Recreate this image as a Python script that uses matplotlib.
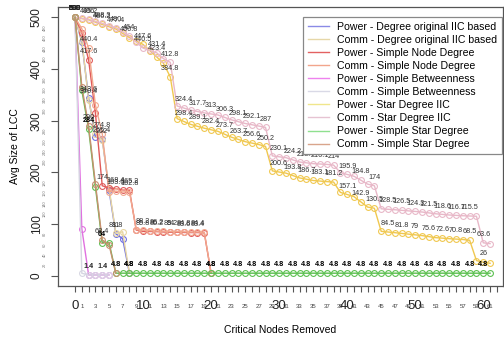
import matplotlib
matplotlib.use('Agg')
import matplotlib.pyplot as plt
from matplotlib.lines import Line2D
from matplotlib.transforms import blended_transform_factory

plt.rcParams['font.family'] = ['Liberation Sans', 'DejaVu Sans']

# Avg size of LCC after n critical nodes removed (x = 0, 1, 2, ...)
pw_deg_iic = [500, 452, 343.6, 268, 265.4, 165.2, 81, 71.6, 4.8]
cm_deg_iic = [500, 455, 340.4, 275, 262, 170, 81.8, 85, 4.8]
pw_node = [500, 470, 417.6, 314, 174, 170, 168.4, 166, 165.2, 88.2, 85.8,
           85.5, 85.2, 84.6, 84, 84, 83.6, 83.4, 83.4, 83, 4.8]
cm_node = [500, 478, 440.4, 330, 274.8, 162, 163.6, 162, 162.8, 89, 88.2,
           87, 86.2, 86, 85.2, 85, 84.8, 84.4, 84.4, 84, 4.8]
pw_betw = [500, 91, 1.4, 1.4, 1.4, 1.4]
cm_betw = [500, 4.6, 1.4, 1.4, 1.4, 1.4]
pw_star = [500, 497.6, 495.2, 490.7, 486.2, 481.8, 477.4, 469, 460.8, 454,
           447.6, 435.5, 423.4, 411, 384.8, 304, 298.4, 292.8, 289.1, 285.4,
           282.4, 279.4, 273.7, 268, 263.7, 259.4, 256.6, 253.8, 250.2, 202.8,
           200.6, 198.5, 193.8, 189.2, 186.7, 184.2, 183.1, 182, 181.2, 161.2,
           157.1, 153, 142.9, 132.8, 130.5, 85.8, 84.5, 83.2, 81.8, 80.4,
           79, 77.6, 75.6, 73.6, 72.6, 71.6, 70.8, 70, 68.5, 29.2,
           26, 24]
cm_star = [500, 498, 496, 492, 488.3, 484, 480, 472, 464, 452,
           440.5, 436, 431.4, 420, 412.8, 328.4, 324.4, 320.4, 317.7, 315,
           313, 311, 306.3, 301.6, 298.1, 294.6, 292.1, 289.6, 287, 231.8,
           230.1, 228.4, 224.2, 220, 218.4, 216.8, 216.1, 215.4, 214, 199.4,
           195.9, 192.4, 184.8, 177.2, 174, 129.4, 128.5, 127.6, 126.5, 125.4,
           124.3, 123.2, 121.5, 119.8, 118.6, 117.4, 116.7, 116, 115.5, 115,
           63.6, 62]
pw_star_simple = [500, 359, 284, 172, 64, 64, 4.8, 4.8, 4.8, 4.8,
                  4.8, 4.8, 4.8, 4.8, 4.8, 4.8, 4.8, 4.8, 4.8, 4.8,
                  4.8, 4.8, 4.8, 4.8, 4.8, 4.8, 4.8, 4.8, 4.8, 4.8,
                  4.8, 4.8, 4.8, 4.8, 4.8, 4.8, 4.8, 4.8, 4.8, 4.8,
                  4.8, 4.8, 4.8, 4.8, 4.8, 4.8, 4.8, 4.8, 4.8, 4.8,
                  4.8, 4.8, 4.8, 4.8, 4.8, 4.8, 4.8, 4.8, 4.8, 4.8,
                  4.8, 4.8]
cm_star_simple = [500, 366, 290, 178, 68.4, 60, 4.8]

names = ['Power - Degree original IIC based', 'Comm - Degree original IIC based',
         'Power - Simple Node Degree', 'Comm - Simple Node Degree',
         'Power - Simple Betweenness', 'Comm - Simple Betweenness',
         'Power - Star Degree IIC', 'Comm - Star Degree IIC',
         'Power - Simple Star Degree', 'Comm - Simple Star Degree']
colors = ['#6f6fe0', '#e8d6a0', '#e05a5a', '#f2a88e', '#e070e0',
          '#d6d6e2', '#f0c850', '#e8b8c8', '#5cc050', '#c89070']
legend_colors = ['#8a8ae6', '#e6d7a8', '#e36161', '#f2a58c', '#ee82ee',
                 '#d9d9e6', '#f0e68c', '#e6c3d2', '#8fe08f', '#d9a58c']

data = [pw_deg_iic, cm_deg_iic, pw_node, cm_node, pw_betw, cm_betw,
        pw_star, cm_star, pw_star_simple, cm_star_simple]

fig = plt.figure(figsize=(5.04, 3.4), dpi=100)
ax = fig.add_axes([58 / 504, (340 - 286) / 340, 445 / 504, 279 / 340])

for vals, col, name in zip(data, colors, names):
    xs = list(range(len(vals)))
    ax.plot(xs, vals, '-', color=col, lw=1, marker='o', ms=4.2,
            mfc='none', mec=col, mew=0.8)
    bold = name == 'Power - Simple Star Degree'
    for i in range(0, len(vals), 2):
        ax.annotate(f'{vals[i]:g}', (i, vals[i]), xytext=(0, 6),
                    textcoords='offset points', ha='center', va='center',
                    fontsize=5.2, color='#000' if bold else '#333',
                    fontweight='bold' if bold else 'normal')

ax.set_xlim(-2.5, 62.9)
ax.set_ylim(-20, 520)

for s in ax.spines.values():
    s.set_color('#555')
    s.set_linewidth(0.9)

# x axis: tick at every node, big labels by 10, small labels at odd counts
ax.set_xticks(range(0, 63))
ax.set_xticklabels([])
ax.tick_params(axis='x', length=4, width=0.8, color='#555')
trans = blended_transform_factory(ax.transData, ax.transAxes)
for i in range(0, 62):
    if i % 10 == 0:
        ax.text(i, -0.072, str(i), transform=trans, ha='center', va='center',
                fontsize=9.5, color='#222')
    elif i % 2 == 1:
        ax.text(i, -0.072, str(i), transform=trans, ha='center', va='center',
                fontsize=4.3, color='#444')

ax.set_yticks(range(0, 501, 100))
ax.set_yticklabels([str(v) for v in range(0, 501, 100)], rotation=90,
                   va='center', fontsize=8.5, color='#222')
ax.tick_params(axis='y', length=5, width=0.8, color='#555', pad=6)
ytrans = blended_transform_factory(ax.transAxes, ax.transData)
for v in range(20, 500, 20):
    if v % 100:
        ax.text(-0.029, v, str(v), transform=ytrans, rotation=90, ha='center',
                va='center', fontsize=2.8, color='#777')

ax.set_ylabel('Avg Size of LCC', fontsize=7.5, labelpad=8)
ax.text(0.5, -0.158, 'Critical Nodes Removed', transform=ax.transAxes,
        ha='center', va='center', fontsize=7.5)

handles = [Line2D([], [], color=c, lw=1) for c in legend_colors]
leg = ax.legend(handles, names, loc='upper right',
                bbox_to_anchor=(502 / 504, 1 - 17 / 340),
                bbox_transform=fig.transFigure, borderaxespad=0,
                fontsize=7.6, labelspacing=0.29, handlelength=2.0,
                handletextpad=0.8, borderpad=0.45, fancybox=False,
                edgecolor='#888', framealpha=1)
leg.get_frame().set_linewidth(0.9)

fig.savefig('out.png', dpi=100)
